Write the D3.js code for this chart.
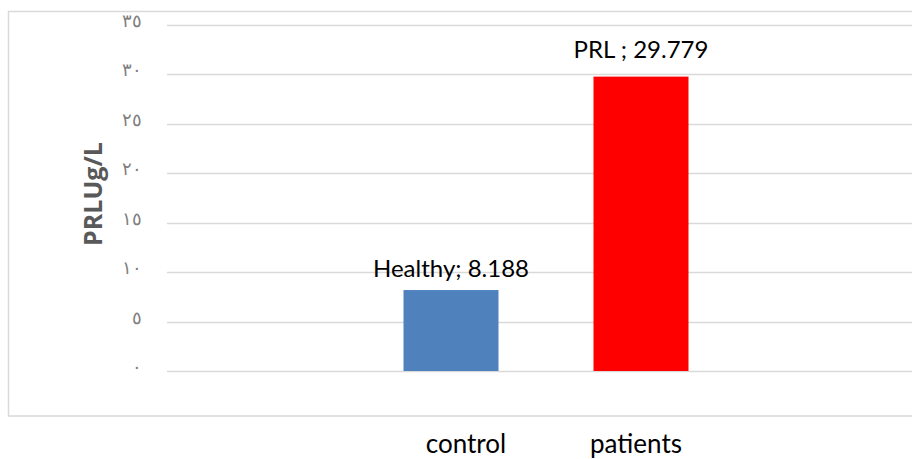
<!DOCTYPE html>
<html><head><meta charset="utf-8">
<script src="https://cdn.jsdelivr.net/npm/d3@7"></script>
<style>html,body{margin:0;padding:0;background:#fff;overflow:hidden}</style>
</head><body>
<svg id="c" width="912" height="459"></svg>
<script>
const categories = ["control", "patients"];
const values = [8.188, 29.779];
const labelNames = ["Healthy", "PRL "];
const barColors = ["#4F81BD", "#FF0000"];
const yTicks = [0, 5, 10, 15, 20, 25, 30, 35];
const yTickLabels = ["٠", "٥", "١٠", "١٥", "٢٠", "٢٥", "٣٠", "٣٥"];
const yTitle = "PRLUg/L";

const svg = d3.select("#c");
svg.append("rect").attr("x", 8.5).attr("y", 11.5).attr("width", 960).attr("height", 404.5)
  .attr("fill", "#fff").attr("stroke", "#d9d9d9").attr("stroke-width", 1.5);

const y = d3.scaleLinear().domain([0, 35]).range([371, 25]);
const x = d3.scaleBand().domain(categories).range([356, 736]).paddingInner(0.5).paddingOuter(0.25);

// gridlines
svg.append("g").selectAll("line").data(yTicks).join("line")
  .attr("x1", 167).attr("x2", 912)
  .attr("y1", d => Math.round(y(d)) + 0.5).attr("y2", d => Math.round(y(d)) + 0.5)
  .attr("stroke", "#d9d9d9").attr("stroke-width", 1.5);

// y tick labels
svg.append("g").selectAll("text").data(yTicks).join("text")
  .attr("x", 142).attr("y", d => y(d) + 2)
  .attr("text-anchor", "end").attr("direction", "ltr")
  .attr("font-family", "DejaVu Sans").attr("font-weight", 300).attr("font-size", 18).attr("fill", "#7f7f7f")
  .text((d, i) => yTickLabels[i]);

// y title
svg.append("text").attr("transform", "translate(102,194) rotate(-90)")
  .attr("text-anchor", "middle").attr("font-family", "Open Sans, sans-serif")
  .attr("font-weight", "bold").attr("font-size", 25).attr("fill", "#595959").text(yTitle);

// bars
svg.append("g").selectAll("rect").data(values).join("rect")
  .attr("x", (d, i) => x(categories[i])).attr("width", x.bandwidth())
  .attr("y", d => y(d)).attr("height", d => y(0) - y(d))
  .attr("fill", (d, i) => barColors[i]);

// data labels
svg.append("g").selectAll("text").data(values).join("text")
  .attr("x", (d, i) => x(categories[i]) + x.bandwidth() / 2)
  .attr("y", d => y(d) - 19 + (d > 20 ? 0 : 6))
  .attr("text-anchor", "middle").attr("font-family", "Lato, sans-serif")
  .attr("font-size", 24).attr("fill", "#000")
  .text((d, i) => labelNames[i] + "; " + d.toFixed(3));

// category labels
const catDx = [15, -5], catDy = [453, 453];
svg.append("g").selectAll("text").data(categories).join("text")
  .attr("x", (d, i) => x(d) + x.bandwidth() / 2 + catDx[i])
  .attr("y", (d, i) => catDy[i])
  .attr("text-anchor", "middle").attr("font-family", "Lato, sans-serif")
  .attr("font-size", 26).attr("fill", "#000").text(d => d);
</script>
</body></html>
